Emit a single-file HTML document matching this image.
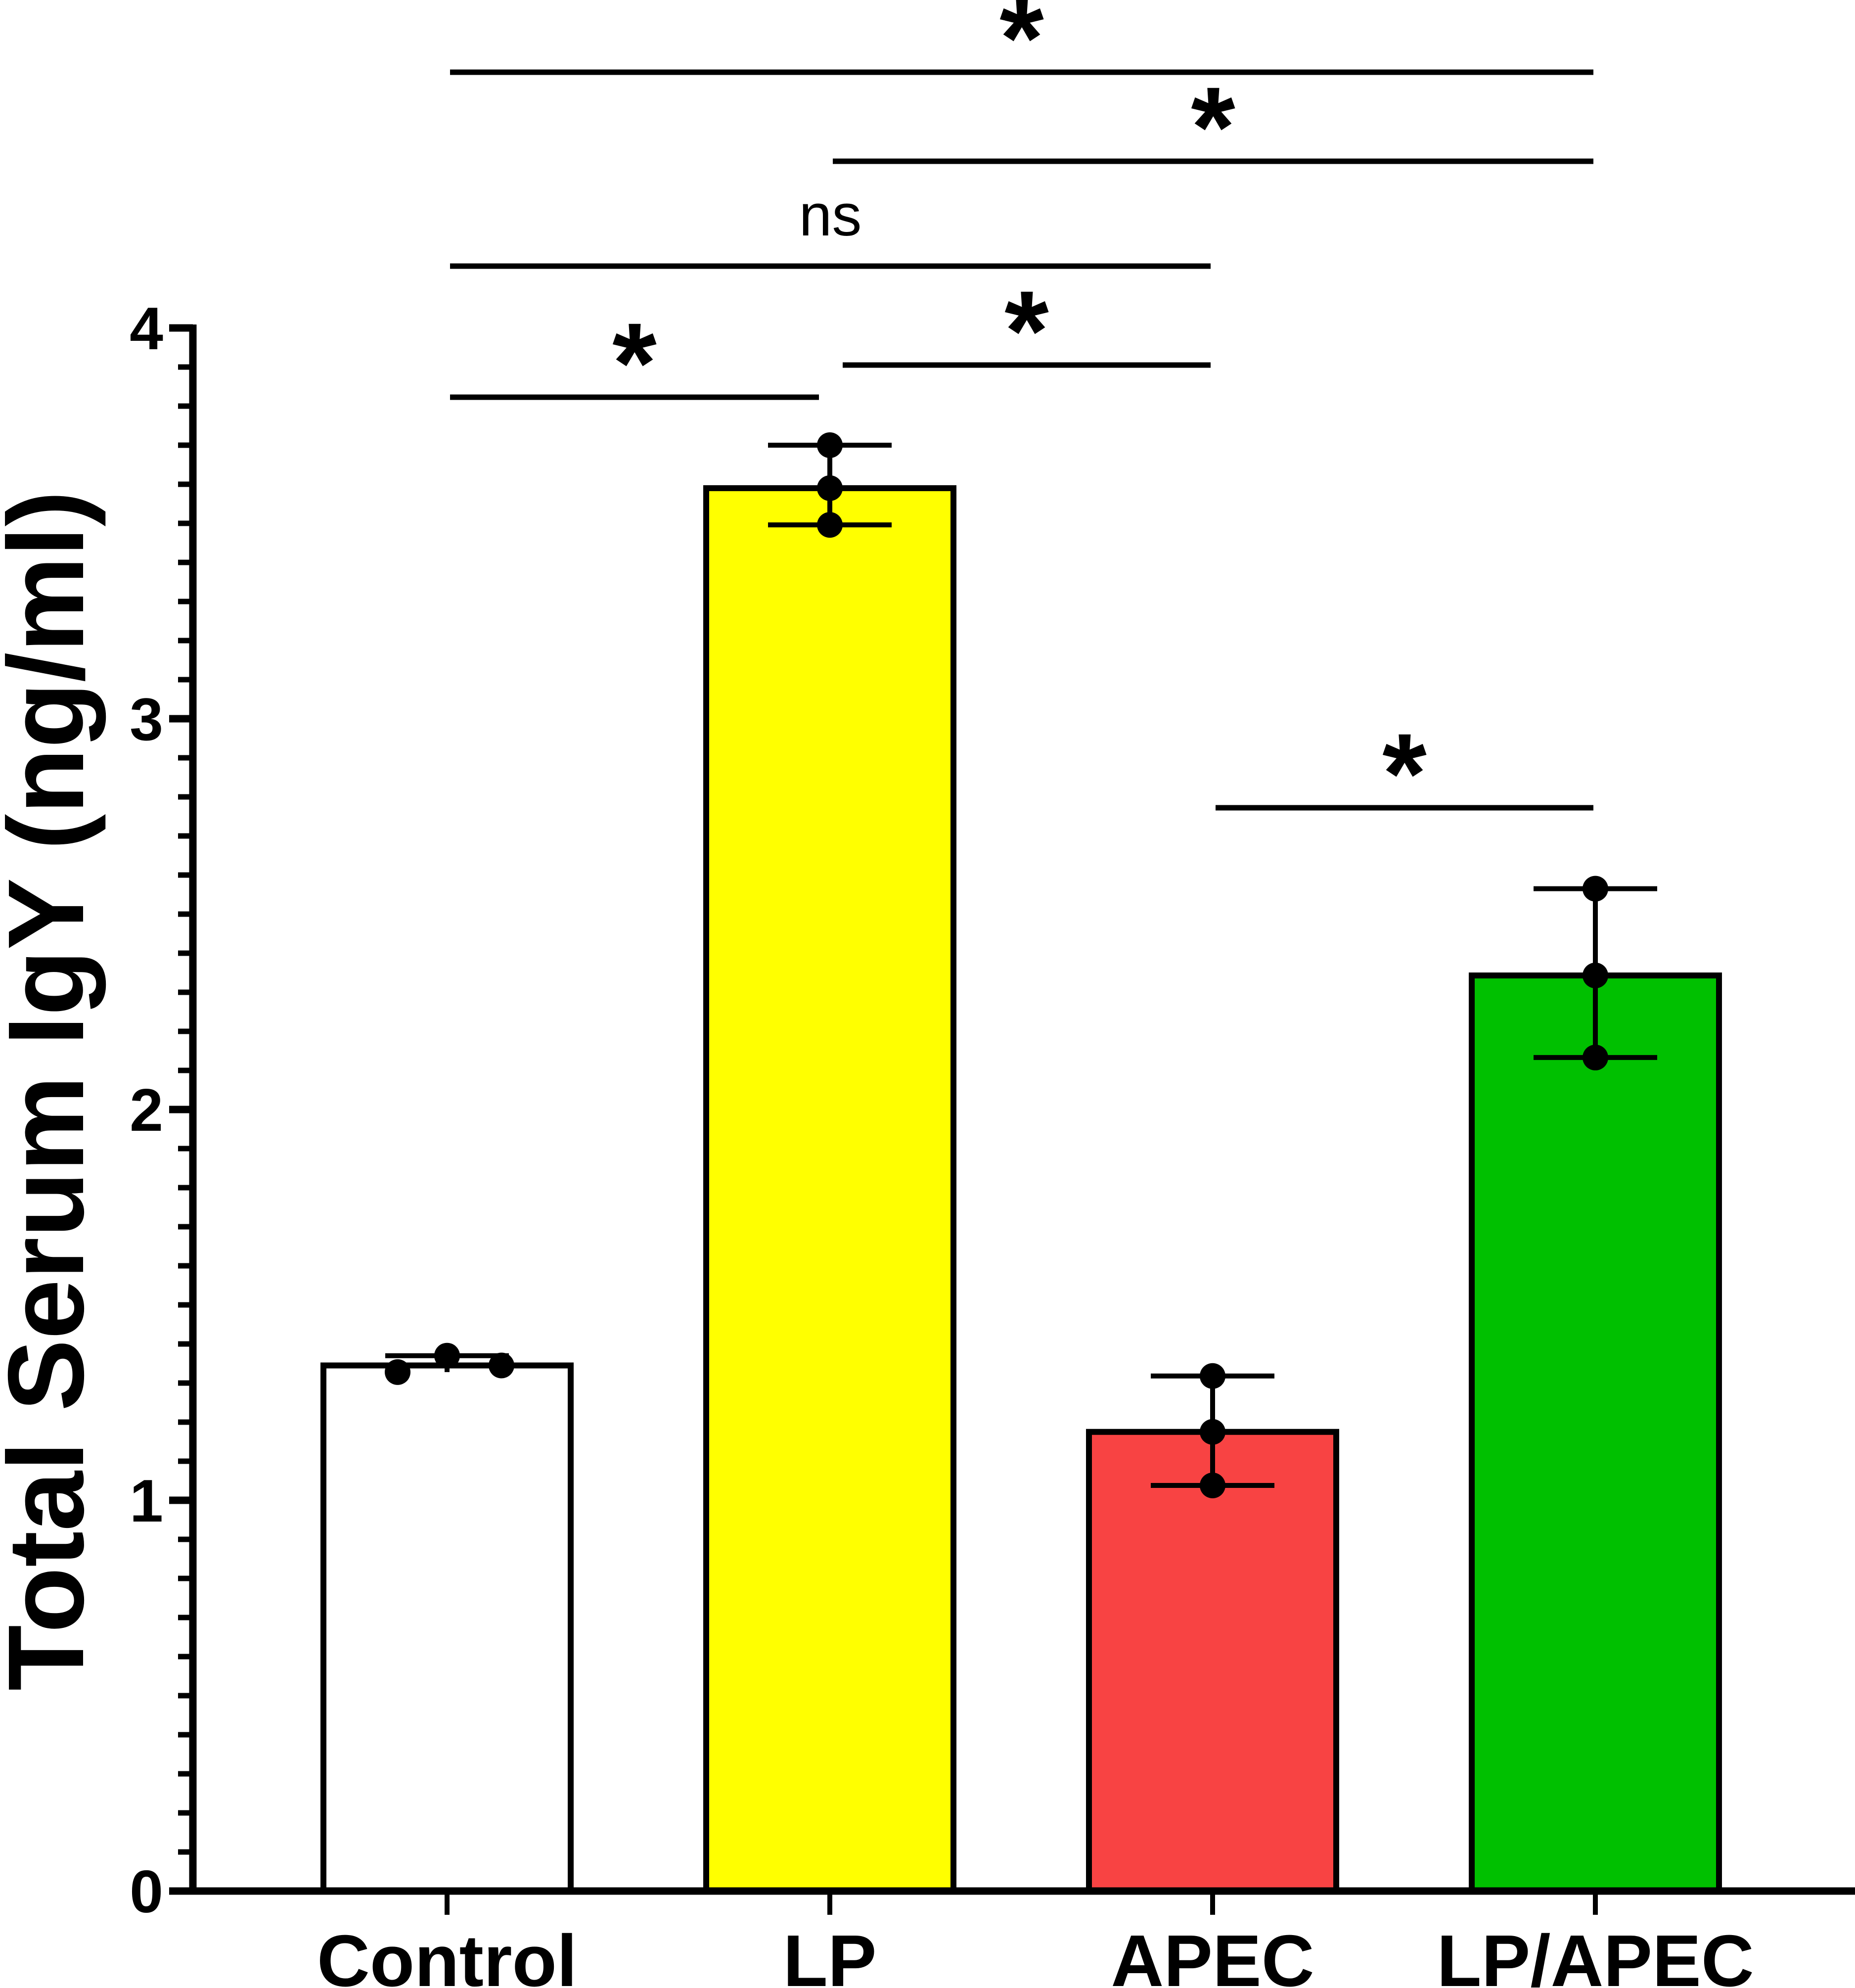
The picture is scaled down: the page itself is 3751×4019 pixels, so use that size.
<!DOCTYPE html>
<html><head><meta charset="utf-8"><style>html,body{margin:0;padding:0;background:#fff}svg{display:block}</style></head>
<body>
<svg id="chart" width="3751" height="4019" viewBox="0 0 3751 4019" xmlns="http://www.w3.org/2000/svg" font-family="Liberation Sans, Arial, sans-serif">
</svg>
<script>
const categories = ["Control","LP","APEC","LP/APEC"];
const means = [1.345, 3.59, 1.175, 2.343];
const points = [[1.328,1.370,1.345],[3.70,3.59,3.496],[1.318,1.175,1.038],[2.565,2.343,2.133]];
const pointOffsets = [[-100,0,110],[0,0,0],[0,0,0],[0,0,0]];
const colors = ["#ffffff","#ffff00","#f84343","#00c000"];
const yTicks = [0,1,2,3,4];
const sigPairs = [[0,3,"*"],[1,3,"*"],[0,2,"ns"],[1,2,"*"],[0,1,"*"],[2,3,"*"]];
const sigLevels = [146,326,538,738,803,1633];

const NS="http://www.w3.org/2000/svg";
const svg=document.getElementById('chart');
const y0=3823, yPerUnit=790, xAxis=390;
const y=v=>y0-v*yPerUnit;
const x=i=>904+i*774;
function mk(t,a,p){const e=document.createElementNS(NS,t);for(const k in a)e.setAttribute(k,a[k]);(p||svg).appendChild(e);return e;}

categories.forEach((c,i)=>{
  const r=mk('rect',{x:x(i)-250,y:y(means[i]),width:500,height:y0-y(means[i]),fill:colors[i],stroke:'#000','stroke-width':12});
  
  
});
categories.forEach((c,i)=>{
  const pts=points[i];const hi=Math.max(...pts), lo=Math.min(...pts);
  const g=mk('g',{stroke:'#000','stroke-width':10});
  
  
  const top=Math.max(hi,means[i]);
  mk('line',{x1:x(i),x2:x(i),y1:y(top),y2:y(Math.max(lo,0)) },g);
  mk('line',{x1:x(i)-125,x2:x(i)+125,y1:y(hi),y2:y(hi)},g);
  if(lo<means[i]-0.03) mk('line',{x1:x(i)-125,x2:x(i)+125,y1:y(lo),y2:y(lo)},g);
  pts.forEach((v,j)=>{
    const d=mk('circle',{cx:x(i)+pointOffsets[i][j],cy:y(v),r:26,fill:'#000'});
    
    
  });
});
const ya=mk('g',{stroke:'#000'});


mk('line',{x1:xAxis,x2:xAxis,y1:y(4)-7,y2:y0+7,'stroke-width':15},ya);
for(let k=0;k<=40;k++){const v=k/10;const major=k%10===0;
  mk('line',{x1:major?xAxis-48:xAxis-30,x2:xAxis,y1:y(v),y2:y(v),'stroke-width':major?15:11},ya);}
yTicks.forEach(v=>{const t=mk('text',{x:xAxis-60,y:y(v)+43,'text-anchor':'end','font-size':122,'font-weight':'bold',fill:'#000'});t.textContent=v;
  
  });
const yt=mk('text',{x:0,y:0,transform:'translate(168,2205) rotate(-90)','text-anchor':'middle','font-size':218,'font-weight':'bold',fill:'#000'});
yt.textContent='Total Serum IgY (ng/ml)';


const xa=mk('g',{stroke:'#000'});


mk('line',{x1:xAxis-48,x2:3751,y1:y0,y2:y0,'stroke-width':15},xa);
categories.forEach((c,i)=>{
  mk('line',{x1:x(i),x2:x(i),y1:y0,y2:y0+48,'stroke-width':10},xa);
  const t=mk('text',{x:x(i),y:4015,'text-anchor':'middle','font-size':148,'font-weight':'bold',fill:'#000'});t.textContent=c;
  
  
});
sigPairs.forEach((p,k)=>{
  const ly=sigLevels[k];
  const g=mk('g',{});
  
  
  const xa1=x(p[0])+(k===3?20:0)+6, xa2=x(p[1])-(k===4?18:0)-4;
  mk('line',{x1:xa1,x2:xa2,y1:ly,y2:ly,stroke:'#000','stroke-width':11},g);
  const cx=(xa1+xa2)/2;
  const t=mk('text',{x:cx,'text-anchor':'middle',fill:'#000'},g);
  if(p[2]==='ns'){t.setAttribute('y',ly-62);t.setAttribute('font-size',120);}
  else{t.setAttribute('y',ly+10);t.setAttribute('font-size',230);t.setAttribute('font-weight','bold');}
  t.textContent=p[2];
});
</script>
</body></html>
